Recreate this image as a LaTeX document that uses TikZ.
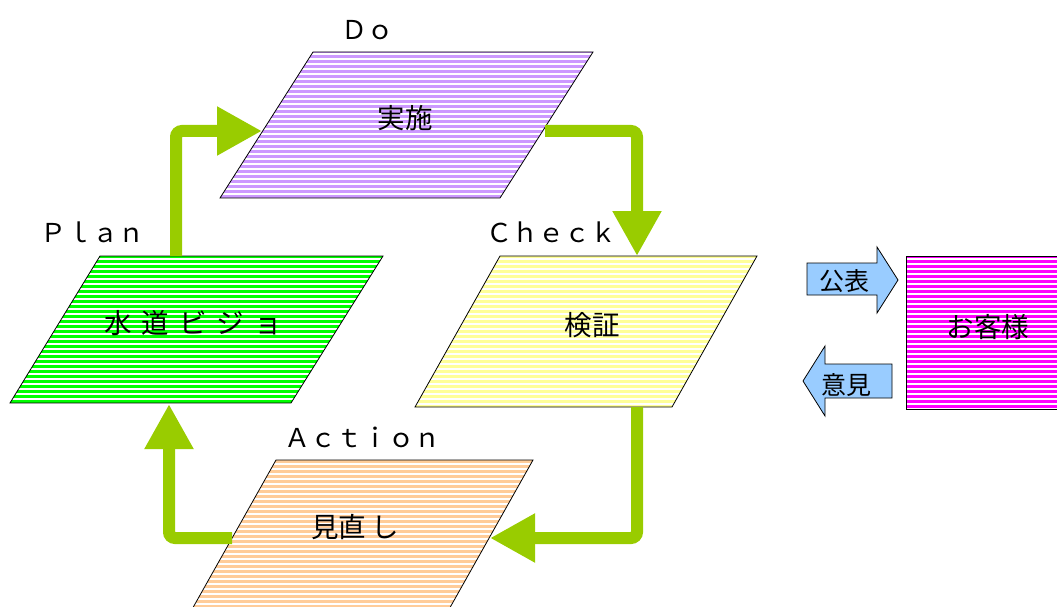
\documentclass[tikz,border=0pt]{standalone}
\usepackage{fontspec}
\setmainfont{Noto Sans CJK JP}
\usetikzlibrary{arrows.meta}
\definecolor{leaf}{RGB}{153, 204, 0}
\definecolor{lime}{RGB}{0, 255, 0}
\definecolor{lavender}{RGB}{204, 153, 255}
\definecolor{cream}{RGB}{255, 255, 153}
\definecolor{peach}{RGB}{255, 204, 153}
\definecolor{fuchsia}{RGB}{255, 0, 255}
\definecolor{sky}{RGB}{153, 204, 255}
\tikzset{
  stripes/.style={fill=white, draw=black, line width=0.8pt,
    path picture={\foreach \k in {0,...,125} \fill[#1] (0,5*\k) rectangle (1100,5*\k+2.6);}},
  tag/.style={font=\fontsize{26}{30}\selectfont, inner sep=0pt},
  word/.style={font=\fontsize{27.5}{32}\selectfont, inner sep=0pt},
  small/.style={font=\fontsize{25}{29}\selectfont, inner sep=0pt},
  loopline/.style={draw=leaf, line width=12pt, rounded corners=6pt, -{Triangle[length=45pt,width=46pt]}},
  talk/.style={fill=sky, draw=black, line width=0.8pt}
}

\begin{document}
\begin{tikzpicture}[x=1pt,y=-1pt]
            \useasboundingbox (0,0) rectangle (1057,607);
            \path[stripes=lavender]   (313, 52) -- (593, 52) -- (500,198) -- (220,198) -- cycle;
            \path[stripes=lime]       (100,256) -- (383,256) -- (291,403) -- ( 10,403) -- cycle;
            \path[stripes=cream]      (500,256) -- (757,256) -- (672,407) -- (415,407) -- cycle;
            \path[stripes=peach]      (276,460) -- (533,460) -- (443,620) -- (186,620) -- cycle;
            \path[stripes=fuchsia]    (906,256) rectangle (1070,409);
            \draw[talk]               (807,263) -- (877,263) -- (877,247) -- (898,280) -- (877,313) -- (877,295) -- (807,295) -- cycle;
            \draw[talk]               (892,364) -- (825,364) -- (825,346) -- (803,381) -- (825,416) -- (825,398) -- (892,398) -- cycle;

            \node[tag]  (dotag)    at (367, 30) {Ｄｏ};
            \node[tag]  (plantag)  at ( 92,232) {Ｐｌａｎ};
            \node[tag]  (checktag) at (551,232) {Ｃｈｅｃｋ};
            \node[tag]  (acttag)   at (362,437) {Ａｃｔｉｏｎ};
            \node[word] (do)       at (405,118) {実施};
            \node[word] (plan)     at (193,323) {水\hspace{10pt}道\hspace{10pt}ビ\hspace{10pt}ジ\hspace{10pt}ョ};
            \node[word] (check)    at (592,325) {検証};
            \node[word] (act)      at (355,527) {見直\hspace{5pt}し};
            \node[word] (cust)     at (988,327) {お客様};
            \node[small] (publish) at (844,281) {公表};
            \node[small] (opinion) at (846,385) {意見};

            \coordinate (planT)  at (176,256);
            \coordinate (doL)    at (262,131);
            \coordinate (doR)    at (545,131);
            \coordinate (checkT) at (637,256);
            \coordinate (checkB) at (637,407);
            \coordinate (actR)   at (490,538);
            \coordinate (actL)   at (232,538);
            \coordinate (planB)  at (169,404);
            \draw[loopline] (planT)  |- (doL);
            \draw[loopline] (doR)    -| (checkT);
            \draw[loopline] (checkB) |- (actR);
            \draw[loopline] (actL)   -| (planB);
        \end{tikzpicture}
\end{document}
